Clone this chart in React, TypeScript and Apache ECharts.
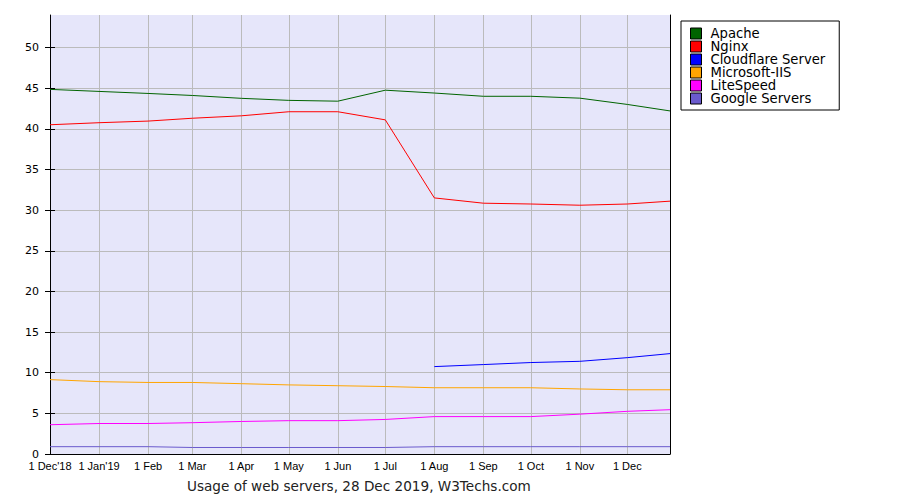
import React, { useEffect, useRef } from "react";
import * as echarts from "echarts";

const dates = [
  "2018-12-01", "2019-01-01", "2019-02-01", "2019-03-01", "2019-04-01", "2019-05-01", "2019-06-01",
  "2019-07-01", "2019-08-01", "2019-09-01", "2019-10-01", "2019-11-01", "2019-12-01", "2019-12-28",
];

const tickDates = [
  "2018-12-01", "2019-01-01", "2019-02-01", "2019-03-01", "2019-04-01", "2019-05-01", "2019-06-01",
  "2019-07-01", "2019-08-01", "2019-09-01", "2019-10-01", "2019-11-01", "2019-12-01",
];
const tickLabels = [
  "1 Dec'18", "1 Jan'19", "1 Feb", "1 Mar", "1 Apr", "1 May", "1 Jun",
  "1 Jul", "1 Aug", "1 Sep", "1 Oct", "1 Nov", "1 Dec",
];
const yTicks = [0, 5, 10, 15, 20, 25, 30, 35, 40, 45, 50];

const apache = [44.85, 44.6, 44.35, 44.1, 43.75, 43.5, 43.4, 44.75, 44.4, 44.0, 44.0, 43.77, 43.0, 42.2];
const nginx = [40.5, 40.75, 40.95, 41.3, 41.6, 42.1, 42.1, 41.1, 31.5, 30.85, 30.75, 30.6, 30.75, 31.1];
const cloudflare = [null, null, null, null, null, null, null, null, 10.75, 11.0, 11.25, 11.4, 11.85, 12.35];
const microsoftIis = [9.15, 8.9, 8.8, 8.8, 8.65, 8.5, 8.4, 8.3, 8.15, 8.15, 8.15, 8.0, 7.9, 7.9];
const liteSpeed = [3.6, 3.75, 3.75, 3.85, 4.0, 4.1, 4.1, 4.25, 4.6, 4.6, 4.6, 4.9, 5.25, 5.45];
const googleServers = [0.9, 0.9, 0.9, 0.8, 0.8, 0.8, 0.8, 0.8, 0.9, 0.9, 0.9, 0.9, 0.9, 0.9];

const seriesNames = ["Apache", "Nginx", "Cloudflare Server", "Microsoft-IIS", "LiteSpeed", "Google Servers"];
const seriesColors = ["#006400", "#ff0000", "#0000ff", "#ffa500", "#ff00ff", "#6a5acd"];
const seriesValues = [apache, nginx, cloudflare, microsoftIis, liteSpeed, googleServers];

const toTime = (d: string) => Date.UTC(+d.slice(0, 4), +d.slice(5, 7) - 1, +d.slice(8, 10));
const tickTimes = tickDates.map(toTime);

export default function App() {
  const ref = useRef<HTMLDivElement>(null);
  useEffect(() => {
    if (!ref.current) return;
    const chart = echarts.init(ref.current, null, { renderer: "svg" });
    const option: any = {
      animation: false,
      backgroundColor: "#ffffff",
      title: {
        text: "Usage of web servers, 28 Dec 2019, W3Techs.com",
        left: 182,
        top: 474,
        textStyle: { fontFamily: "DejaVu Sans", fontSize: 13.6, fontWeight: "normal", color: "#222" },
      },
      legend: {
        orient: "vertical",
        left: 681,
        top: 21,
        padding: [6, 14, 5, 9],
        itemGap: 0,
        itemWidth: 11,
        itemHeight: 11,
        icon: "rect",
        borderColor: "#000",
        borderWidth: 1,
        backgroundColor: "#fff",
        itemStyle: { borderColor: "#000", borderWidth: 1 },
        textStyle: { fontFamily: "DejaVu Sans", fontSize: 13.2, color: "#000", lineHeight: 13, padding: [0, 0, 0, 4] },
        data: seriesNames,
      },
      grid: {
        left: 50,
        right: 230,
        top: 15,
        bottom: 46,
        show: true,
        backgroundColor: "#e6e6fa",
        borderWidth: 0,
      },
      xAxis: {
        type: "value",
        min: toTime(dates[0]),
        max: toTime(dates[dates.length - 1]),
        axisLine: { onZero: false, lineStyle: { color: "#000", width: 1 } },
        axisTick: { show: false, customValues: tickTimes },
        axisLabel: {
          customValues: tickTimes,
          margin: 6,
          fontFamily: "Liberation Sans Narrow, Arial Narrow, sans-serif",
          fontSize: 11,
          color: "#000",
          formatter: (v: number) => {
            const i = tickTimes.indexOf(v);
            return i >= 0 ? tickLabels[i] : "";
          },
          hideOverlap: false,
        },
        splitLine: { show: true, lineStyle: { color: "#bbbbbb", width: 1 } },
      },
      yAxis: [
        {
          type: "value",
          min: 0,
          max: 54,
          axisLine: { show: true, onZero: false, lineStyle: { color: "#000", width: 1 } },
          axisTick: { show: true, length: 5, customValues: yTicks, lineStyle: { color: "#000" } },
          axisLabel: { customValues: yTicks, margin: 11, fontFamily: "DejaVu Sans", fontSize: 11, color: "#000" },
          splitLine: { show: true, lineStyle: { color: "#bbbbbb", width: 1 } },
        },
        {
          type: "value",
          min: 0,
          max: 54,
          position: "left",
          axisLine: { show: false },
          axisTick: { show: true, inside: true, length: 5, customValues: yTicks, lineStyle: { color: "#000" } },
          axisLabel: { show: false },
          splitLine: { show: false },
        },
        {
          type: "value",
          min: 0,
          max: 54,
          position: "right",
          axisLine: { show: true, onZero: false, lineStyle: { color: "#000", width: 1 } },
          axisTick: { show: false },
          axisLabel: { show: false },
          splitLine: { show: false },
        },
      ],
      series: seriesNames.map((name, si) => ({
        name,
        type: "line",
        showSymbol: false,
        symbol: "none",
        color: seriesColors[si],
        lineStyle: { width: 1, color: seriesColors[si] },
        itemStyle: { color: seriesColors[si], borderColor: "#000", borderWidth: 1 },
        connectNulls: false,
        data: dates.map((d, i) => [toTime(d), seriesValues[si][i]]),
      })),
    };
    chart.setOption(option);
    return () => chart.dispose();
  }, []);
  return <div ref={ref} style={{ width: 900, height: 500, marginTop: -8, marginLeft: -8 }} />;
}
